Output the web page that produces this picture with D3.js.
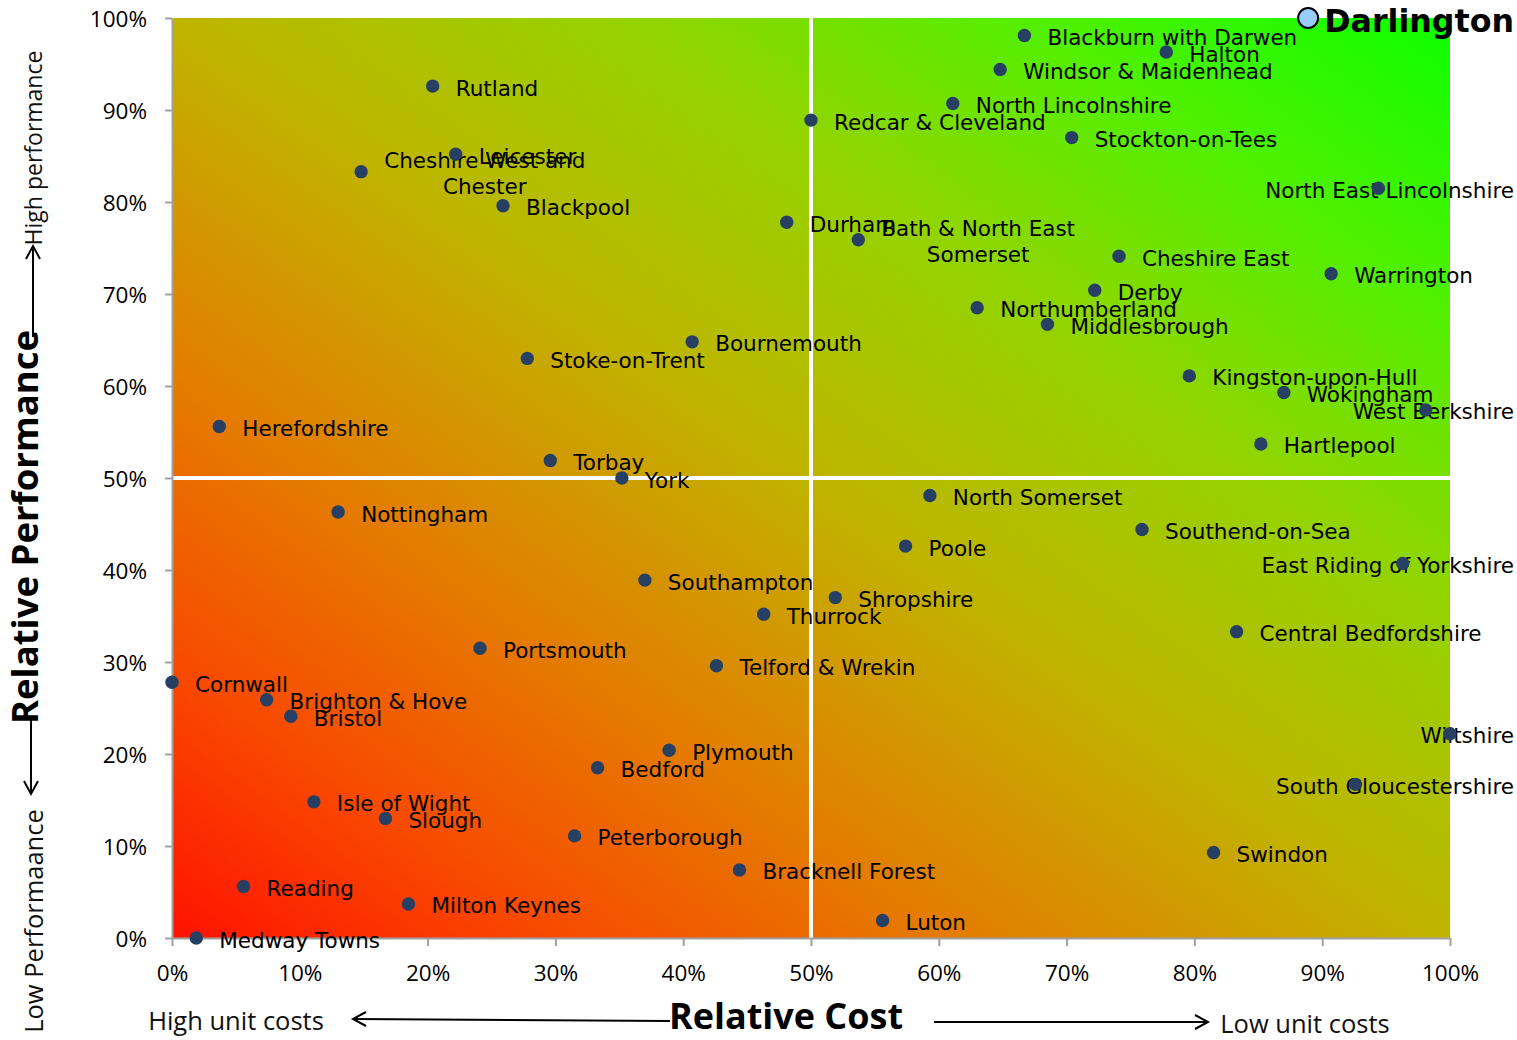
<!DOCTYPE html>
<html>
<head>
<meta charset="utf-8">
<script src="https://cdn.jsdelivr.net/npm/d3@7"></script>
<style>
  body { margin: 0; background: #fff; }
  svg { display: block; }
</style>
</head>
<body>
<svg id="chart" width="1517" height="1040"></svg>
<script>
// Unitary authorities: relative cost rank (x, % — higher = lower unit costs)
// against relative performance rank (y, %).
const authorities = [
  "Rutland", "Leicester", "Cheshire West and\nChester", "Blackpool", "Stoke-on-Trent",
  "Herefordshire", "Torbay", "Blackburn with Darwen", "Windsor & Maidenhead", "North Lincolnshire",
  "Redcar & Cleveland", "Stockton-on-Tees", "Durham", "Bath & North East\nSomerset", "Northumberland",
  "Middlesbrough", "Bournemouth", "York", "Halton", "North East Lincolnshire",
  "Cheshire East", "Warrington", "Derby", "Kingston-upon-Hull", "Wokingham",
  "West Berkshire", "Hartlepool", "Darlington", "Nottingham", "Portsmouth",
  "Cornwall", "Brighton & Hove", "Bristol", "Bedford", "Isle of Wight",
  "Slough", "Peterborough", "Reading", "Milton Keynes", "Medway Towns",
  "Southampton", "North Somerset", "Poole", "Shropshire", "Thurrock",
  "Telford & Wrekin", "Plymouth", "Bracknell Forest", "Luton", "Southend-on-Sea",
  "East Riding of Yorkshire", "Central Bedfordshire", "Wiltshire", "South Gloucestershire", "Swindon"
];

const relativeCost = [
  20.4, 22.2, 14.8, 25.9, 27.8,
  3.7, 29.6, 66.7, 64.8, 61.1,
  50.0, 70.4, 48.1, 53.7, 63.0,
  68.5, 40.7, 35.2, 77.8, 94.4,
  74.1, 90.7, 72.2, 79.6, 87.0,
  98.1, 85.2, 88.9, 13.0, 24.1,
  0.0, 7.4, 9.3, 33.3, 11.1,
  16.7, 31.5, 5.6, 18.5, 1.9,
  37.0, 59.3, 57.4, 51.9, 46.3,
  42.6, 38.9, 44.4, 55.6, 75.9,
  96.3, 83.3, 100.0, 92.6, 81.5
];

const relativePerformance = [
  92.6, 85.2, 83.3, 79.6, 63.0,
  55.6, 51.9, 98.1, 94.4, 90.7,
  88.9, 87.0, 77.8, 75.9, 68.5,
  66.7, 64.8, 50.0, 96.3, 81.5,
  74.1, 72.2, 70.4, 61.1, 59.3,
  57.4, 53.7, 100.0, 46.3, 31.5,
  27.8, 25.9, 24.1, 18.5, 14.8,
  13.0, 11.1, 5.6, 3.7, 0.0,
  38.9, 48.1, 42.6, 37.0, 35.2,
  29.6, 20.4, 7.4, 1.9, 44.4,
  40.7, 33.3, 22.2, 16.7, 9.3
];

const highlighted = "Darlington";
const xTickValues = [0, 10, 20, 30, 40, 50, 60, 70, 80, 90, 100];
const yTickValues = [0, 10, 20, 30, 40, 50, 60, 70, 80, 90, 100];

const data = authorities.map((name, i) => ({
  name, cost: relativeCost[i], perf: relativePerformance[i]
}));

// ---- layout ----
const svg = d3.select("#chart");
const plot = { left: 172, top: 18, width: 1278, height: 920 };
const labelRightLimit = 1514;

const x = d3.scaleLinear().domain([0, 100]).range([plot.left, plot.left + plot.width]);
const y = d3.scaleLinear().domain([0, 100]).range([plot.top + plot.height, plot.top]);

const tickFont = "'Open Sans', 'Noto Sans', sans-serif";
const labelFont = "'DejaVu Sans', Verdana, sans-serif";

// ---- red → green quadrant background ----
const defs = svg.append("defs");
const grad = defs.append("linearGradient")
  .attr("id", "ragGradient")
  .attr("x1", 0).attr("y1", 1).attr("x2", 1).attr("y2", 0);
[
  [0.00, "#ff1200"],
  [0.15, "#f84a00"],
  [0.30, "#e57a00"],
  [0.50, "#c0b400"],
  [0.68, "#93d400"],
  [0.84, "#50f000"],
  [1.00, "#0cff00"]
].forEach(([o, c]) => grad.append("stop").attr("offset", o).attr("stop-color", c));

svg.append("rect")
  .attr("x", x(0)).attr("y", y(100))
  .attr("width", x(100) - x(0)).attr("height", y(0) - y(100))
  .attr("fill", "url(#ragGradient)");

// quadrant dividers
svg.append("line")
  .attr("x1", x(50)).attr("x2", x(50)).attr("y1", y(100)).attr("y2", y(0))
  .attr("stroke", "#fff").attr("stroke-width", 4);
svg.append("line")
  .attr("x1", x(0)).attr("x2", x(100)).attr("y1", y(50)).attr("y2", y(50))
  .attr("stroke", "#fff").attr("stroke-width", 4);

// ---- axes ----
const axisColor = "#a0a0a0";
const yAxis = svg.append("g")
  .attr("transform", `translate(${plot.left},0)`)
  .call(d3.axisLeft(y).tickValues(yTickValues).tickFormat(d => d + "%")
    .tickSize(7).tickSizeOuter(0).tickPadding(18));
const xAxis = svg.append("g")
  .attr("transform", `translate(0,${plot.top + plot.height})`)
  .call(d3.axisBottom(x).tickValues(xTickValues).tickFormat(d => d + "%")
    .tickSize(8).tickSizeOuter(0));

[yAxis, xAxis].forEach(a => {
  a.select(".domain").attr("stroke", axisColor).attr("stroke-width", 2);
  a.selectAll(".tick line").attr("stroke", axisColor).attr("stroke-width", 2);
  a.selectAll(".tick text")
    .attr("fill", "#000")
    .style("font-family", tickFont)
    .style("font-size", "22.5px");
});
xAxis.selectAll(".tick text").attr("y", 43).attr("dy", 0);
yAxis.selectAll(".tick text").attr("dy", "0.36em");

// ---- axis titles and direction arrows ----
const arrowStroke = "#000";
function arrowHead(x0, y0, dir) {
  // open chevron pointing in dir (unit vector [dx, dy])
  const [dx, dy] = dir, len = 13, half = 7;
  const bx = x0 - dx * len, by = y0 - dy * len;
  const px = -dy, py = dx;
  svg.append("path")
    .attr("d", `M${bx + px * half},${by + py * half}L${x0},${y0}L${bx - px * half},${by - py * half}`)
    .attr("fill", "none").attr("stroke", arrowStroke).attr("stroke-width", 2);
}
function arrowLine(x1, y1, x2, y2) {
  svg.append("line").attr("x1", x1).attr("y1", y1).attr("x2", x2).attr("y2", y2)
    .attr("stroke", arrowStroke).attr("stroke-width", 2);
}

// vertical: performance
svg.append("text")
  .attr("transform", "translate(25,527) rotate(-90)")
  .attr("text-anchor", "middle").attr("dy", "0.35em")
  .style("font-family", tickFont).style("font-weight", 700).style("font-size", "36.5px")
  .text("Relative Performance");
svg.append("text")
  .attr("transform", "translate(34,148) rotate(-90)")
  .attr("text-anchor", "middle").attr("dy", "0.35em")
  .style("font-family", tickFont).style("font-size", "23px").attr("fill", "#111")
  .text("High performance");
svg.append("text")
  .attr("transform", "translate(34,921) rotate(-90)")
  .attr("text-anchor", "middle").attr("dy", "0.35em")
  .style("font-family", tickFont).style("font-size", "25.5px").attr("fill", "#111")
  .text("Low Performaance");
arrowLine(33, 246, 33, 337);
arrowHead(33, 246, [0, -1]);
arrowLine(31, 720, 31, 794);
arrowHead(31, 794, [0, 1]);

// horizontal: cost
svg.append("text")
  .attr("x", 786).attr("y", 1016).attr("dy", "0.35em")
  .attr("text-anchor", "middle")
  .style("font-family", tickFont).style("font-weight", 700).style("font-size", "36px")
  .text("Relative Cost");
svg.append("text")
  .attr("x", 236).attr("y", 1030).attr("text-anchor", "middle")
  .style("font-family", tickFont).style("font-size", "25.5px").attr("fill", "#111")
  .text("High unit costs");
svg.append("text")
  .attr("x", 1305).attr("y", 1033).attr("text-anchor", "middle")
  .style("font-family", tickFont).style("font-size", "25.5px").attr("fill", "#111")
  .text("Low unit costs");
arrowLine(353, 1019, 670, 1021);
arrowHead(353, 1019, [-1, 0]);
arrowLine(934, 1022, 1208, 1022);
arrowHead(1208, 1022, [1, 0]);

// ---- data labels (drawn beneath the markers) ----
const labelLayer = svg.append("g");
const markerLayer = svg.append("g");
const lineHeight = 25.5;

data.forEach(d => {
  const cx = x(d.cost), cy = y(d.perf);
  const isHi = d.name === highlighted;
  const lines = d.name.split("\n");
  const t = labelLayer.append("text")
    .attr("fill", "#000")
    .style("font-family", labelFont)
    .style("font-size", isHi ? "31.7px" : "21.5px")
    .style("font-weight", isHi ? 700 : 400);
  const spans = lines.map(ln => t.append("tspan").text(ln));
  const widths = spans.map(s => s.node().getComputedTextLength());
  const blockW = d3.max(widths);
  const offset = isHi ? 17 : 23;
  let left = cx + offset;
  if (left + blockW > labelRightLimit) left = labelRightLimit - blockW;
  const base = cy + (isHi ? 14 : 9.5) - (lines.length - 1) * lineHeight / 2;
  spans.forEach((s, i) => {
    if (lines.length > 1) {
      s.attr("x", left + blockW / 2).attr("text-anchor", "middle");
    } else {
      s.attr("x", left);
    }
    s.attr("y", base + i * lineHeight);
  });
});

// ---- markers ----
markerLayer.selectAll("circle")
  .data(data)
  .join("circle")
  .attr("cx", d => x(d.cost))
  .attr("cy", d => y(d.perf))
  .attr("r", d => d.name === highlighted ? 10 : 6.7)
  .attr("fill", d => d.name === highlighted ? "#99ccff" : "#263f63")
  .attr("stroke", d => d.name === highlighted ? "#000" : "none")
  .attr("stroke-width", 2);

// keep the highlighted authority on top
markerLayer.selectAll("circle").filter(d => d.name === highlighted).raise();
</script>
</body>
</html>
